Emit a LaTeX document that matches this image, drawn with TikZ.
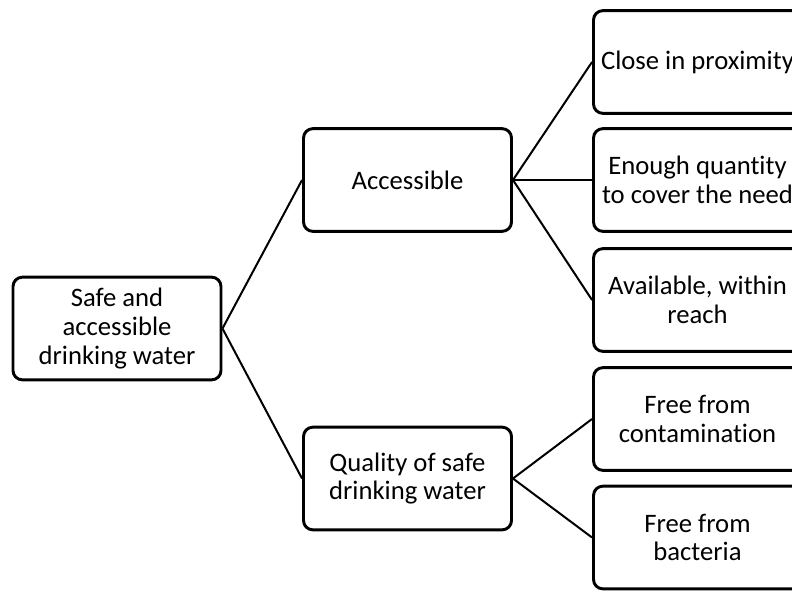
\documentclass[tikz,border=0pt]{standalone}
\usepackage{fontspec}
\setmainfont[Ligatures=NoCommon]{Carlito}
\begin{document}
\begin{tikzpicture}[x=0.75pt,y=-0.75pt,
  box/.style={draw, line width=2.2pt, rounded corners=7pt, minimum width=156pt, minimum height=77pt,
    align=center, font=\fontsize{20}{21.5}\selectfont, inner sep=2pt},
  link/.style={line width=1.5pt}]
\clip (0,0) rectangle (792,590);
\useasboundingbox (0,0) rectangle (792,590);
\node[box] (root) at (117,328.5) {Safe and\\accessible\\drinking water};
\node[box] (acc) at (407.5,180) {Accessible};
\node[box] (qual) at (407.5,478.5) {Quality of safe\\drinking water};
\node[box] (r1) at (697.5,62) {Close in proximity};
\node[box] (r2) at (697.5,180) {Enough quantity\\to cover the need};
\node[box] (r3) at (697.5,300) {Available, within\\reach};
\node[box] (r4) at (697.5,419) {Free from\\contamination};
\node[box] (r5) at (697.5,537.5) {Free from\\bacteria};
\draw[link] (root.east) -- (acc.west);
\draw[link] (root.east) -- (qual.west);
\draw[link] (acc.east) -- (r1.west);
\draw[link] (acc.east) -- (r2.west);
\draw[link] (acc.east) -- (r3.west);
\draw[link] (qual.east) -- (r4.west);
\draw[link] (qual.east) -- (r5.west);
\end{tikzpicture}
\end{document}
